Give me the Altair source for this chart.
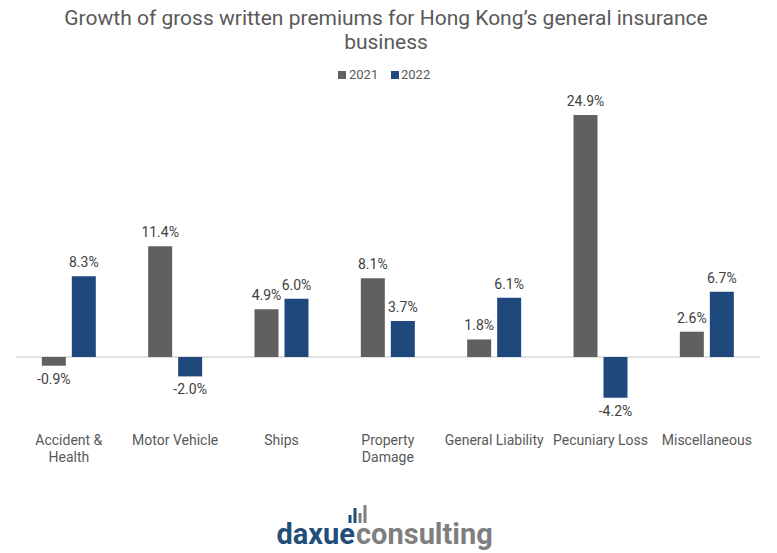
import altair as alt
import pandas as pd

categories = ["Accident & Health", "Motor Vehicle", "Ships", "Property Damage",
              "General Liability", "Pecuniary Loss", "Miscellaneous"]
category_lines = ["Accident &|Health", "Motor Vehicle", "Ships", "Property|Damage",
                  "General Liability", "Pecuniary Loss", "Miscellaneous"]
growth_2021 = [-0.9, 11.4, 4.9, 8.1, 1.8, 24.9, 2.6]
growth_2022 = [8.3, -2.0, 6.0, 3.7, 6.1, -4.2, 6.7]
years = ["2021", "2022"]
colors = ["#606060", "#1F497D"]
title_lines = ["Growth of gross written premiums for Hong Kong’s general insurance", "business"]

rows = []
for i, c in enumerate(categories):
    rows.append({"category": c, "idx": i, "year": "2021", "value": growth_2021[i]})
    rows.append({"category": c, "idx": i, "year": "2022", "value": growth_2022[i]})
df = pd.DataFrame(rows)
df["label"] = df["value"].map(lambda v: f"{v:.1f}%")
cat_df = pd.DataFrame({"idx": list(range(len(categories))), "name": category_lines})
zero_df = pd.DataFrame({"value": [0]})

FONT = "Roboto"
W, H = 752, 337

x_scale = alt.Scale(domain=[-0.572, len(categories) - 0.5], nice=False, zero=False, padding=0)
y_scale = alt.Scale(domain=[-7, 27.67], nice=False, zero=False)
x_enc = alt.X("xpos:Q", scale=x_scale, axis=None)
y_enc = alt.Y("value:Q", scale=y_scale, axis=None)

base = alt.Chart(df).transform_calculate(
    xpos="datum.idx + (datum.year == '2021' ? -0.141 : 0.141)",
    base="0",
)

bars = base.mark_bar(width=24).encode(
    x=x_enc, y=y_enc, y2=alt.Y2("base:Q"),
    color=alt.Color("year:N", sort=years, scale=alt.Scale(domain=years, range=colors),
                    legend=None),
)

zero = alt.Chart(zero_df).mark_rule(color="#D9D9D9", strokeWidth=1.5).encode(
    y=y_enc, x=alt.value(8), x2=alt.value(W))

lab_pos = base.transform_filter("datum.value >= 0").mark_text(
    baseline="bottom", dy=-6, font=FONT, fontSize=14, color="#404040"
).encode(x=x_enc, y=y_enc, text="label:N")

lab_neg = base.transform_filter("datum.value < 0").mark_text(
    baseline="top", dy=7, font=FONT, fontSize=14, color="#404040"
).encode(x=x_enc, y=y_enc, text="label:N")

cat_labels = alt.Chart(cat_df).mark_text(
    baseline="top", lineBreak="|", lineHeight=17, font=FONT, fontSize=14, color="#595959"
).encode(x=alt.X("idx:Q", scale=x_scale, axis=None), y=alt.value(346), text="name:N")

one = pd.DataFrame({"a": [0]})

# title
title1 = alt.Chart(one).mark_text(
    text=title_lines[0], baseline="top", font=FONT, fontSize=21, color="#595959"
).encode(x=alt.value(378), y=alt.value(-80))
title2 = alt.Chart(one).mark_text(
    text=title_lines[1], baseline="top", font=FONT, fontSize=21, color="#595959"
).encode(x=alt.value(378), y=alt.value(-56))

# legend
leg_sq_x = [334, 387]
leg_tx_x = [341, 393]
legend_layers = []
for i in range(2):
    legend_layers.append(alt.Chart(one).mark_square(size=64, color=colors[i], opacity=1).encode(
        x=alt.value(leg_sq_x[i]), y=alt.value(-13)))
    legend_layers.append(alt.Chart(one).mark_text(
        text=years[i], align="left", baseline="middle", font=FONT, fontSize=13, color="#595959"
    ).encode(x=alt.value(leg_tx_x[i]), y=alt.value(-13)))

# logo (decoration)
logo_a = alt.Chart(one).mark_text(
    text="daxue", align="right", baseline="alphabetic", font=FONT, fontWeight="bold",
    fontSize=29, color="#1F4E79"
).encode(x=alt.value(347), y=alt.value(456))
logo_b = alt.Chart(one).mark_text(
    text="consulting", align="left", baseline="alphabetic", font=FONT, fontWeight="bold",
    fontSize=29, color="#7F7F7F"
).encode(x=alt.value(348), y=alt.value(456))
icon_x = [342, 347, 352, 357]
icon_top = [427, 420, 425, 417]
icon_col = ["#1F4E79", "#1F4E79", "#7F7F7F", "#7F7F7F"]
icons = [alt.Chart(one).mark_rule(strokeWidth=3, color=icon_col[i]).encode(
    x=alt.value(icon_x[i]), y=alt.value(icon_top[i]), y2=alt.value(435)) for i in range(4)]

chart = alt.layer(zero, bars, lab_pos, lab_neg, cat_labels, title1, title2,
                  *legend_layers, logo_a, logo_b, *icons).properties(
    width=W, height=H, padding=0,
).configure_view(strokeWidth=0)

chart.save("out.html", embed_options={"renderer": "svg", "actions": False})
